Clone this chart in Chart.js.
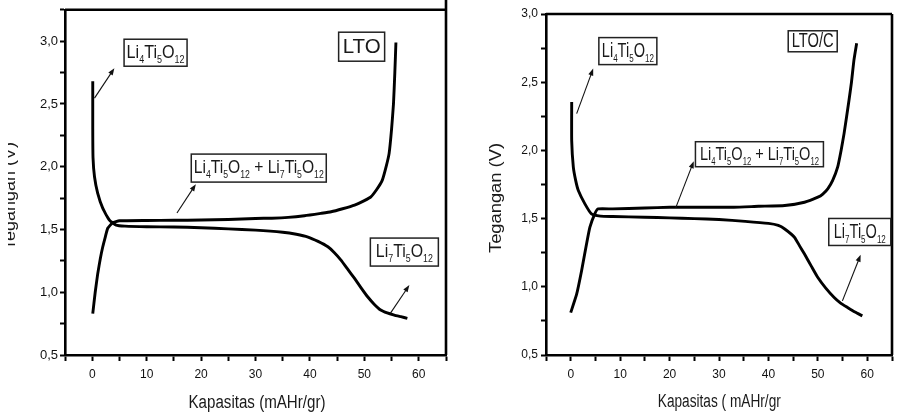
<!DOCTYPE html>
<html>
<head>
<meta charset="utf-8">
<script src="https://cdn.jsdelivr.net/npm/chart.js@4.4.1/dist/chart.umd.min.js"></script>
<style>
  html, body { margin: 0; padding: 0; background: #fff; }
  #wrap { position: relative; width: 898px; height: 415px; overflow: hidden; }
  #ltoBox { position: absolute; left: 0; top: 0; width: 452px; height: 415px; }
  #ltocBox { position: absolute; left: 452px; top: 0; width: 446px; height: 415px; }
  #edge { position: absolute; left: 0; top: 0; width: 8px; height: 415px; background: #fff; }
</style>
</head>
<body>
<div id="wrap">
  <div id="ltoBox"><canvas id="lto"></canvas></div>
  <div id="ltocBox"><canvas id="ltoc"></canvas></div>
  <div id="edge"></div>
</div>
<script>
// LTO: capacity (mAHr/gr) and voltage (V)
const ltoDischargeX = [0.1, 0.1, 0.15, 0.42, 1.0, 1.93, 3.16, 4.4, 6, 10, 15, 20, 25, 30, 35, 37.5, 39.65, 41.5, 43.3, 44.5, 45.7, 47, 48.2, 49.4, 50.6, 51.8, 53, 54.2, 55.5, 56.7, 57.9];
const ltoDischargeY = [2.68, 2.30, 2.07, 1.92, 1.79, 1.67, 1.575, 1.535, 1.527, 1.522, 1.52, 1.514, 1.505, 1.495, 1.478, 1.462, 1.44, 1.405, 1.362, 1.315, 1.256, 1.18, 1.11, 1.035, 0.964, 0.905, 0.858, 0.835, 0.818, 0.805, 0.792];
const ltoChargeX = [0.1, 0.55, 1.02, 1.5, 1.93, 2.4, 2.85, 3.76, 5, 10, 15, 20, 25, 30, 33, 36, 39, 42, 43.9, 46, 48.2, 50, 51.2, 52.3, 53.3, 54, 54.55, 55, 55.35, 55.6, 55.8];
const ltoChargeY = [0.83, 1.0, 1.15, 1.27, 1.36, 1.44, 1.51, 1.553, 1.569, 1.572, 1.573, 1.575, 1.58, 1.588, 1.59, 1.596, 1.609, 1.628, 1.641, 1.665, 1.694, 1.73, 1.76, 1.82, 1.893, 2.0, 2.106, 2.3, 2.5, 2.75, 2.99];

// LTO/C
const ltocDischargeX = [0.2, 0.2, 0.53, 1.0, 1.54, 2.87, 4.2, 6, 8.5, 15, 20, 25, 30, 35.3, 40, 42, 43.3, 45.3, 46.3, 47.3, 48.7, 50, 51.6, 53.3, 54.6, 56, 57.5, 59];
const ltocDischargeY = [2.355, 2.07, 1.877, 1.78, 1.706, 1.608, 1.535, 1.518, 1.515, 1.51, 1.505, 1.5, 1.493, 1.48, 1.465, 1.45, 1.424, 1.362, 1.3, 1.24, 1.15, 1.068, 0.99, 0.921, 0.88, 0.848, 0.815, 0.787];
const ltocChargeX = [0, 1.2, 2.2, 3.2, 3.87, 4.87, 5.54, 8.5, 15, 20, 33, 38, 43.3, 47.3, 50, 51, 52, 53, 54, 54.7, 55.3, 56.3, 56.8, 57.3, 57.85];
const ltocChargeY = [0.811, 0.946, 1.118, 1.314, 1.436, 1.535, 1.571, 1.571, 1.578, 1.583, 1.583, 1.59, 1.596, 1.62, 1.657, 1.68, 1.718, 1.78, 1.877, 2.0, 2.123, 2.368, 2.5, 2.662, 2.785];

// axis ranges and tick steps
const xRange = [-5, 65];
const xStep = 5;
const ltoYRange = [0.5, 3.25];
const ltocYRange = [0.5, 3.0];
const yStep = 0.25;

const FONT = "'Liberation Sans', Arial, sans-serif";
Chart.defaults.font.family = FONT;
Chart.defaults.color = '#111';

function toPoints(xs, ys) {
    return xs.map((x, i) => ({ x: x, y: ys[i] }));
}

function curve(xs, ys) {
    return {
        data: toPoints(xs, ys),
        borderColor: '#000',
        borderWidth: 2.9,
        pointRadius: 0,
        tension: 0.15,
        fill: false
    };
}

// text squeezed/stretched along its direction to a given length
function fitText(ctx, text, x, y, width) {
    const w = ctx.measureText(text).width;
    ctx.save();
    ctx.translate(x, y);
    ctx.scale(width / w, 1);
    ctx.fillText(text, 0, 0);
    ctx.restore();
}

// "Li_4Ti_5O_12" -> Li4Ti5O12 with subscripts, centred on (cx, cy)
function drawFormula(ctx, label, cx, cy, size, width) {
    const parts = label.split(/(_\d+)/).filter(p => p);
    const mainFont = size + 'px ' + FONT;
    const subFont = Math.round(size * 0.55) + 'px ' + FONT;
    let total = 0;
    const widths = parts.map(p => {
        const sub = p[0] === '_';
        ctx.font = sub ? subFont : mainFont;
        const w = ctx.measureText(sub ? p.slice(1) : p).width;
        total += w;
        return w;
    });
    const sx = width / total;
    const base = cy + size * 0.36 - 1.5;
    ctx.save();
    ctx.translate(cx - width / 2, base);
    ctx.scale(sx, 1);
    ctx.textAlign = 'left';
    ctx.textBaseline = 'alphabetic';
    let x = 0;
    parts.forEach((p, i) => {
        const sub = p[0] === '_';
        ctx.font = sub ? subFont : mainFont;
        ctx.fillText(sub ? p.slice(1) : p, x, sub ? size * 0.28 : 0);
        x += widths[i];
    });
    ctx.restore();
}

function drawArrow(ctx, x0, y0, x1, y1) {
    const a = Math.atan2(y1 - y0, x1 - x0);
    const len = 7, half = 2.6;
    ctx.beginPath();
    ctx.moveTo(x0, y0);
    ctx.lineTo(x1 - Math.cos(a) * len * 0.8, y1 - Math.sin(a) * len * 0.8);
    ctx.lineWidth = 1.1;
    ctx.strokeStyle = '#111';
    ctx.stroke();
    ctx.beginPath();
    ctx.moveTo(x1, y1);
    ctx.lineTo(x1 - Math.cos(a) * len - Math.sin(a) * half, y1 - Math.sin(a) * len + Math.cos(a) * half);
    ctx.lineTo(x1 - Math.cos(a) * len + Math.sin(a) * half, y1 - Math.sin(a) * len - Math.cos(a) * half);
    ctx.closePath();
    ctx.fillStyle = '#111';
    ctx.fill();
}

// frame, axis titles, labelled boxes and arrows
const decorations = {
    id: 'decorations',
    afterDraw(chart, args, opts) {
        const ctx = chart.ctx;
        const area = chart.chartArea;
        const xs = chart.scales.x, ys = chart.scales.y;

        ctx.save();
        ctx.strokeStyle = '#000';
        ctx.lineWidth = 2.6;
        ctx.beginPath();
        ctx.moveTo(area.left, area.top);
        ctx.lineTo(area.right, area.top);
        ctx.moveTo(area.right, opts.rightTop);
        ctx.lineTo(area.right, area.bottom);
        ctx.stroke();

        ctx.fillStyle = '#1a1a1a';
        ctx.textAlign = 'center';
        ctx.textBaseline = 'alphabetic';

        // x axis title
        const xt = opts.xTitle;
        ctx.font = xt.size + 'px ' + FONT;
        fitText(ctx, xt.text, (area.left + area.right) / 2 + xt.dx, xt.y, xt.len);

        // y axis title, reading upwards
        const yt = opts.yTitle;
        ctx.font = yt.size + 'px ' + FONT;
        ctx.save();
        ctx.translate(yt.x, yt.y);
        ctx.rotate(-Math.PI / 2);
        fitText(ctx, yt.text, 0, 0, yt.len);
        ctx.restore();

        opts.arrows.forEach(a => {
            drawArrow(ctx, xs.getPixelForValue(a.from[0]), ys.getPixelForValue(a.from[1]),
                xs.getPixelForValue(a.to[0]), ys.getPixelForValue(a.to[1]));
        });

        opts.labels.forEach(l => {
            const cx = xs.getPixelForValue(l.x), cy = ys.getPixelForValue(l.y);
            ctx.fillStyle = '#fff';
            ctx.fillRect(cx - l.w / 2, cy - l.h / 2, l.w, l.h);
            ctx.strokeStyle = '#222';
            ctx.lineWidth = 1.5;
            ctx.strokeRect(cx - l.w / 2, cy - l.h / 2, l.w, l.h);
            ctx.fillStyle = '#1a1a1a';
            drawFormula(ctx, l.text, cx, cy, l.size, l.tw);
        });
        ctx.restore();
    }
};

function yLabel(v) {
    const d = v * 2;
    return Math.abs(d - Math.round(d)) < 1e-6 ? v.toFixed(1).replace('.', ',') : '';
}

function makeChart(id, sets, yRange, cfg) {
    new Chart(document.getElementById(id), {
        type: 'line',
        data: { datasets: sets },
        options: {
            responsive: true,
            maintainAspectRatio: false,
            animation: false,
            layout: { padding: cfg.padding },
            plugins: {
                legend: { display: false },
                tooltip: { enabled: false },
                decorations: cfg.deco
            },
            scales: {
                x: {
                    type: 'linear',
                    min: xRange[0],
                    max: xRange[1],
                    afterFit: s => { s.height = 60; },
                    ticks: {
                        stepSize: xStep,
                        autoSkip: false,
                        maxRotation: 0,
                        padding: 6,
                        font: { size: 12 },
                        color: '#111',
                        callback: v => (v % 10 === 0 ? String(v) : '')
                    },
                    grid: { drawOnChartArea: false, tickLength: 6, tickWidth: 2, tickColor: '#000' },
                    border: { color: '#000', width: 2.6 }
                },
                y: {
                    type: 'linear',
                    min: yRange[0],
                    max: yRange[1],
                    afterFit: s => { s.width = cfg.yWidth; },
                    ticks: {
                        stepSize: yStep,
                        autoSkip: false,
                        padding: cfg.yPad,
                        font: { size: cfg.yFont },
                        color: '#111',
                        callback: yLabel
                    },
                    grid: { drawOnChartArea: false, tickLength: 5, tickWidth: 2, tickColor: '#000' },
                    border: { color: '#000', width: 2.6 }
                }
            }
        },
        plugins: [decorations]
    });
}

makeChart('lto', [curve(ltoDischargeX, ltoDischargeY), curve(ltoChargeX, ltoChargeY)], ltoYRange, {
    padding: { top: 9, right: 3, left: 0, bottom: 0 },
    yWidth: 65,
    yPad: 2,
    yFont: 13,
    deco: {
        rightTop: 0,
        xTitle: { text: 'Kapasitas (mAHr/gr)', dx: 1.5, y: 407.5, size: 18, len: 137 },
        yTitle: { text: 'Tegangan (V)', x: 14.6, y: 196, size: 16, len: 108 },
        arrows: [
            { from: [0.42, 2.546], to: [4.07, 2.785] },
            { from: [15.57, 1.631], to: [19.04, 1.861] },
            { from: [54.8, 0.834], to: [58.27, 1.057] }
        ],
        labels: [
            { text: 'Li_4Ti_5O_12', x: 11.64, y: 2.908, w: 63, h: 27, size: 18, tw: 58 },
            { text: 'LTO', x: 49.5, y: 2.956, w: 46, h: 29, size: 21, tw: 38 },
            { text: 'Li_4Ti_5O_12 + Li_7Ti_5O_12', x: 30.6, y: 1.989, w: 135, h: 28, size: 18, tw: 130 },
            { text: 'Li_7Ti_5O_12', x: 57.35, y: 1.32, w: 68, h: 28, size: 18, tw: 57 }
        ]
    }
});

makeChart('ltoc', [curve(ltocDischargeX, ltocDischargeY), curve(ltocChargeX, ltocChargeY)], ltocYRange, {
    padding: { top: 14, right: 2, left: 0, bottom: 0 },
    yWidth: 94,
    yPad: 3,
    yFont: 12,
    deco: {
        rightTop: 14,
        xTitle: { text: 'Kapasitas ( mAHr/gr', dx: 0.3, y: 406.5, size: 18, len: 123 },
        yTitle: { text: 'Tegangan (V)', x: 48.6, y: 198, size: 16, len: 110 },
        arrows: [
            { from: [1.2, 2.27], to: [4.55, 2.6] },
            { from: [21.24, 1.579], to: [24.9, 1.921] },
            { from: [54.97, 0.897], to: [58.66, 1.235] }
        ],
        labels: [
            { text: 'Li_4Ti_5O_12', x: 11.56, y: 2.728, w: 58, h: 27, size: 20, tw: 52 },
            { text: 'LTO/C', x: 48.96, y: 2.8, w: 49, h: 21, size: 20, tw: 42 },
            { text: 'Li_4Ti_5O_12 + Li_7Ti_5O_12', x: 38.18, y: 1.972, w: 128, h: 25, size: 19, tw: 119 },
            { text: 'Li_7Ti_5O_12', x: 58.48, y: 1.402, w: 62, h: 27, size: 20, tw: 52 }
        ]
    }
});
</script>
</body>
</html>
